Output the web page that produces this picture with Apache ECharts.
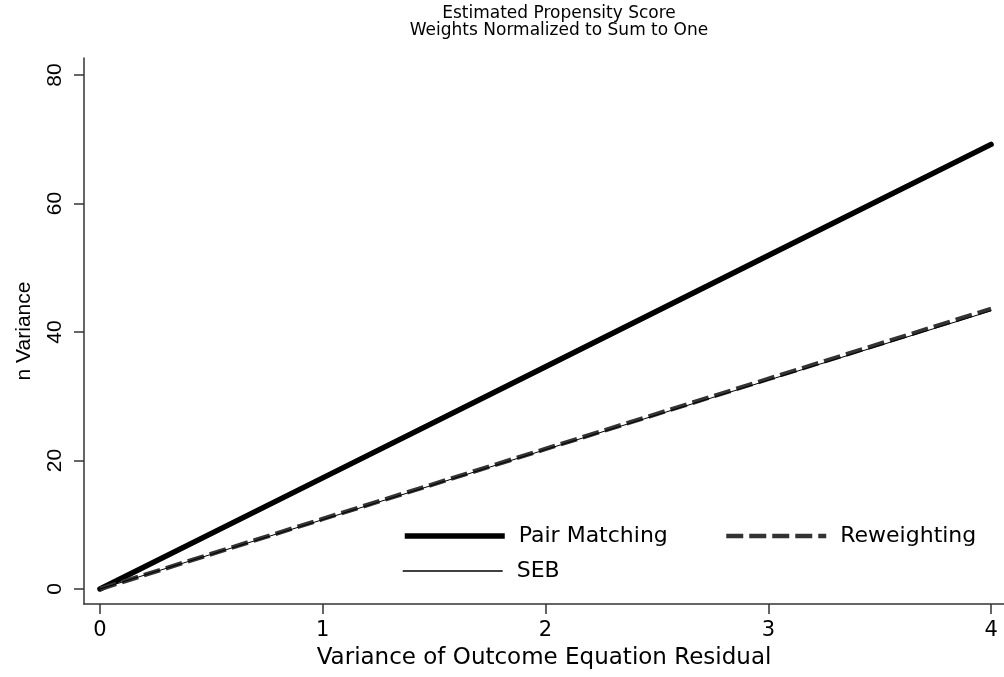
<!DOCTYPE html>
<html>
<head>
<meta charset="utf-8">
<script src="https://cdn.jsdelivr.net/npm/echarts@6/dist/echarts.min.js"></script>
<style>
html,body{margin:0;padding:0;background:#fff;}
#c{width:1004px;height:677px;}
</style>
</head>
<body>
<div id="c"></div>
<script>
const xValues = [0, 1, 2, 3, 4];
const pairMatching = [0, 17.3, 34.6, 51.9, 69.2];
const reweighting = [0, 10.9, 21.8, 32.7, 43.6];
const seb = [0, 10.8, 21.7, 32.5, 43.3];
const xTicks = [0, 1, 2, 3, 4];
const yTicks = [0, 20, 40, 60, 80];
const titleLines = ['Estimated Propensity Score', 'Weights Normalized to Sum to One'];

const WIDE = 'DejaVu Sans, Liberation Sans, Arial, sans-serif';
const FONT = 'Liberation Sans, Arial, Helvetica, sans-serif';
const toPairs = ys => xValues.map((x, i) => [x, ys[i]]);

const legendText = {fontFamily: WIDE, fontSize: 22, color: '#000', padding: [0, 0, 0, 9]};
function legendFor(name, left, top, width, lineStyle) {
  return {
    data: [name], left: left, top: top, padding: 0,
    itemWidth: width, itemHeight: 24,
    itemStyle: {opacity: 0},
    lineStyle: lineStyle,
    textStyle: legendText
  };
}

const chart = echarts.init(document.getElementById('c'), null, {renderer: 'canvas'});
chart.setOption({
  animation: false,
  backgroundColor: '#ffffff',
  title: {
    text: titleLines.join('\n'),
    left: 554, textAlign: 'center', top: 0,
    textStyle: {fontFamily: WIDE, fontSize: 17, fontWeight: 'normal', color: '#000', lineHeight: 17}
  },
  legend: [
    legendFor('Pair Matching', 402, 525, 100, {color: '#000', width: 5.5, type: 'solid', cap: 'butt'}),
    legendFor('Reweighting', 724, 525, 100, {color: '#333', width: 4.5, type: [17, 6], cap: 'butt'}),
    legendFor('SEB', 402, 560, 100, {color: '#000', width: 1.4, type: 'solid', cap: 'butt'})
  ],
  grid: {left: 84, right: 0, top: 58, bottom: 73, containLabel: false},
  xAxis: {
    type: 'value', min: -0.0718, max: 4.058,
    name: 'Variance of Outcome Equation Residual', nameLocation: 'middle', nameGap: 43,
    nameTextStyle: {fontFamily: WIDE, fontSize: 23, color: '#000'},
    axisLine: {show: true, onZero: false, lineStyle: {color: '#333', width: 1.5}},
    axisTick: {show: true, length: 10, customValues: xTicks, lineStyle: {color: '#333', width: 1.5}},
    axisLabel: {customValues: xTicks, margin: 16, fontFamily: WIDE, fontSize: 21, color: '#000'},
    splitLine: {show: false}
  },
  yAxis: {
    type: 'value', min: -2.335, max: 82.65,
    name: 'n Variance', nameLocation: 'middle', nameGap: 49, nameRotate: 90,
    nameTextStyle: {fontFamily: FONT, fontSize: 21, color: '#000'},
    axisLine: {show: true, onZero: false, lineStyle: {color: '#333', width: 1.5}},
    axisTick: {show: true, length: 10, customValues: yTicks, lineStyle: {color: '#333', width: 1.5}},
    axisLabel: {customValues: yTicks, rotate: 90, margin: 18, fontFamily: FONT, fontSize: 21, color: '#000'},
    splitLine: {show: false}
  },
  series: [
    {name: 'Pair Matching', type: 'line', data: toPairs(pairMatching), symbol: 'none',
     lineStyle: {color: '#000', width: 5.5, cap: 'round'}, itemStyle: {color: '#000'}, z: 2},
    {name: 'Reweighting', type: 'line', data: toPairs(reweighting), symbol: 'none',
     lineStyle: {color: '#333', width: 4.5, type: [17, 6]}, itemStyle: {color: '#333'}, z: 3},
    {name: 'SEB', type: 'line', data: toPairs(seb), symbol: 'none',
     lineStyle: {color: '#000', width: 1}, itemStyle: {color: '#000'}, z: 4}
  ]
});
</script>
</body>
</html>
